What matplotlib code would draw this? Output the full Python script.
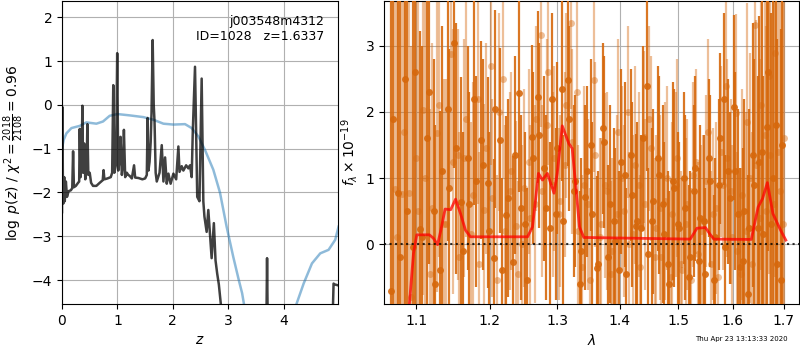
import matplotlib
matplotlib.use('Agg')
import matplotlib.pyplot as plt
from matplotlib.ticker import NullLocator, FixedFormatter

# p(z) curve (black): redshift, log p(z)
PZ_Z = [0.000, 0.008, 0.015, 0.025, 0.040, 0.050, 0.070, 0.090, 0.120, 0.160,
        0.185, 0.200, 0.215, 0.250, 0.290, 0.310, 0.320, 0.335, 0.355, 0.368,
        0.380, 0.400, 0.420, 0.445, 0.458, 0.475, 0.500, 0.525, 0.560, 0.620,
        0.680, 0.735, 0.750, 0.765, 0.820, 0.880, 0.905, 0.925, 0.945, 0.975,
        0.996, 1.015, 1.035, 1.056, 1.080, 1.100, 1.117, 1.140, 1.170, 1.195,
        1.220, 1.260, 1.300, 1.320, 1.380, 1.450, 1.500, 1.530, 1.545, 1.560,
        1.580, 1.600, 1.615, 1.636, 1.655, 1.670, 1.690, 1.710, 1.760, 1.800,
        1.830, 1.860, 1.890, 1.920, 1.960, 2.010, 2.060, 2.100, 2.120, 2.160,
        2.190, 2.240, 2.280, 2.310, 2.340, 2.360, 2.400, 2.440, 2.480, 2.520,
        2.550, 2.570, 2.610, 2.640, 2.670, 2.700, 2.740, 2.770, 2.800, 2.830,
        2.870, 2.950, 3.400, 3.680, 3.700, 3.720, 4.200, 4.860, 4.900, 4.920,
        4.980]
PZ_LOGP = [-2.45, -0.05, -1.60, -2.25, -1.65, -2.20, -1.75, -2.10, -1.97, -1.95,
           -1.90, -1.06, -1.88, -1.85, -1.78, -1.75, -0.55, -1.65, -1.20, -0.02,
           -1.55, -0.88, -1.70, -1.40, -0.44, -1.60, -1.55, -1.78, -1.85, -1.85,
           -1.78, -1.72, -1.49, -1.70, -1.68, -1.65, -1.55, 0.45, -1.55, -1.35,
           1.18, -1.50, -1.30, -0.73, -1.60, -1.40, -0.57, -1.65, -1.55, -1.60,
           -1.62, -1.68, -1.38, -1.66, -1.67, -1.70, -1.68, -1.60, -0.30, -1.50,
           -1.30, -0.85, -0.20, 1.48, 0.00, -0.40, -1.55, -1.75, -1.55, -0.92,
           -1.75, -1.20, -1.80, -1.57, -1.80, -1.57, -1.70, -0.95, -1.53, -1.40,
           -1.50, -1.38, -1.45, -1.38, -1.65, -0.60, 0.87, -2.10, -2.20, 0.60,
           -2.20, -2.55, -2.90, -2.40, -2.95, -3.50, -2.70, -3.55, -3.85, -4.10,
           -4.60, -6.00, -6.00, -6.00, -3.50, -6.00, -6.00, -6.00, -4.08, -4.10,
           -4.12]

# prior / smooth curve (blue)
PRIOR_Z = [0.00, 0.03, 0.08, 0.17, 0.32, 0.44, 0.62, 0.74, 0.86, 1.00, 1.22,
           1.47, 1.65, 1.83, 2.01, 2.22, 2.34, 2.46, 2.58, 2.73, 2.85, 2.97,
           3.09, 3.19, 3.25, 3.29, 3.60, 4.00, 4.23, 4.36, 4.51, 4.66, 4.81,
           4.93, 4.99]
PRIOR_LOGP = [-1.00, -0.80, -0.65, -0.53, -0.48, -0.40, -0.43, -0.38, -0.25,
              -0.21, -0.24, -0.28, -0.34, -0.43, -0.45, -0.44, -0.53, -0.72,
              -1.03, -1.48, -2.00, -2.78, -3.47, -4.00, -4.30, -4.60, -6.00,
              -6.00, -4.55, -4.08, -3.62, -3.39, -3.31, -3.08, -2.78]

# spectrum A (dark orange)
WAVE_A = [1.068, 1.077, 1.086, 1.096, 1.105, 1.114, 1.123, 1.132, 1.142, 1.151,
          1.160, 1.169, 1.178, 1.188, 1.197, 1.206, 1.215, 1.224, 1.234, 1.243,
          1.252, 1.261, 1.270, 1.280, 1.289, 1.298, 1.307, 1.316, 1.326, 1.335,
          1.344, 1.353, 1.362, 1.372, 1.381, 1.390, 1.399, 1.408, 1.418, 1.427,
          1.436, 1.445, 1.454, 1.464, 1.473, 1.482, 1.491, 1.500, 1.510, 1.519,
          1.528, 1.537, 1.546, 1.556, 1.565, 1.574, 1.583, 1.592, 1.602, 1.611,
          1.620, 1.629, 1.638, 1.648, 1.657, 1.666, 1.675, 1.684, 1.694]
FLUX_A = [-0.71, 0.77, 2.50, -0.05, 0.23, 1.61, 0.50, -0.39, 2.04, 3.05,
          0.63, 1.30, 2.19, 1.57, 0.93, -0.21, 1.57, 0.44, -0.27, 2.29,
          0.30, 1.62, 2.23, 1.15, 0.25, 0.45, 2.35, 2.48, 0.80, -0.60,
          0.71, 1.50, -0.37, 1.75, -0.20, 0.35, -0.40, 1.05, 1.35, 0.27,
          0.25, 2.40, 0.35, 1.30, 0.60, -0.30, 0.95, 0.30, 1.00, -0.50,
          0.80, -0.25, 0.35, 1.30, -0.55, 0.90, 2.20, 1.10, 2.07, 0.45,
          -0.25, -0.75, 1.35, 0.25, 1.40, 1.78, 0.30, 1.80, -0.55]
ERR_A = [4.5, 4.5, 4.0, 3.8, 3.0, 2.6, 2.3, 2.4, 2.0, 1.9,
         1.9, 1.7, 1.6, 1.5, 1.6, 1.5, 1.4, 1.5, 1.6, 1.5,
         1.4, 1.4, 1.3, 1.4, 1.3, 1.3, 1.4, 1.3, 1.3, 1.4,
         1.4, 1.3, 1.4, 1.3, 1.4, 1.4, 1.5, 1.4, 1.3, 1.4,
         1.4, 1.3, 1.4, 1.4, 1.5, 1.4, 1.5, 1.4, 1.3, 1.4,
         1.3, 1.4, 1.3, 1.2, 1.3, 1.3, 1.3, 1.4, 1.4, 1.6,
         1.7, 1.8, 2.0, 2.3, 2.5, 2.8, 3.2, 3.5, 3.8]

# spectrum C (dark orange, second beam)
WAVE_C = [1.0703, 1.0793, 1.0883, 1.0983, 1.1073, 1.1163, 1.1253, 1.1343,
          1.1443, 1.1533, 1.1623, 1.1713, 1.1803, 1.1903, 1.1993, 1.2083,
          1.2173, 1.2263, 1.2363, 1.2453, 1.2543, 1.2633, 1.2723, 1.2823,
          1.2913, 1.3003, 1.3093, 1.3183, 1.3283, 1.3373, 1.3463, 1.3553,
          1.3643, 1.3743, 1.3833, 1.3923, 1.4013, 1.4103, 1.4203, 1.4293,
          1.4383, 1.4473, 1.4563, 1.4663, 1.4753, 1.4843, 1.4933, 1.5023,
          1.5123, 1.5213, 1.5303, 1.5393, 1.5483, 1.5583, 1.5673, 1.5763,
          1.5853, 1.5943, 1.6043, 1.6133, 1.6223, 1.6313, 1.6403, 1.6503,
          1.6593, 1.6683, 1.6773, 1.6863, 1.6963]
FLUX_C = [1.90, -0.20, 0.50, 2.60, 0.10, 2.30, -0.60, 1.10, 0.85, 1.45,
          -0.10, 0.60, 0.95, 1.20, 0.20, 2.05, -0.40, 0.70, 1.35, 0.55,
          -0.55, 1.30, 1.65, 0.55, 2.20, 1.45, 0.35, 1.90, 0.95, -0.10,
          1.10, 0.45, -0.30, 1.55, 0.60, 0.05, 1.25, -0.45, 0.75, 0.35,
          1.60, -0.15, 0.65, 1.05, 0.15, -0.60, 0.85, 0.25, 0.55, -0.20,
          1.15, 0.40, -0.45, 0.95, 0.10, 1.60, -0.05, 0.70, 1.10, -0.35,
          0.50, 0.25, 0.90, 1.25, 0.15, 2.60, 1.00, -0.30, 1.50]
ERR_C = [4.4, 4.3, 3.9, 3.6, 2.9, 2.6, 2.4, 2.2, 2.1, 1.9,
         1.8, 1.7, 1.6, 1.6, 1.5, 1.5, 1.4, 1.5, 1.5, 1.4,
         1.4, 1.3, 1.4, 1.4, 1.3, 1.3, 1.3, 1.4, 1.3, 1.4,
         1.3, 1.4, 1.4, 1.3, 1.5, 1.4, 1.4, 1.3, 1.4, 1.5,
         1.4, 1.3, 1.4, 1.5, 1.4, 1.4, 1.5, 1.3, 1.4, 1.3,
         1.4, 1.4, 1.3, 1.3, 1.2, 1.3, 1.4, 1.3, 1.5, 1.5,
         1.7, 1.8, 1.9, 2.2, 2.4, 2.7, 3.0, 3.4, 3.7]

# spectrum B (light orange)
WAVE_B = [1.0726, 1.0818, 1.0910, 1.1002, 1.1094, 1.1186, 1.1278, 1.1370,
          1.1462, 1.1554, 1.1646, 1.1738, 1.1830, 1.1922, 1.2014, 1.2106,
          1.2198, 1.2290, 1.2382, 1.2474, 1.2566, 1.2658, 1.2750, 1.2842,
          1.2934, 1.3026, 1.3118, 1.3210, 1.3302, 1.3394, 1.3486, 1.3578,
          1.3670, 1.3762, 1.3854, 1.3946, 1.4038, 1.4130, 1.4222, 1.4314,
          1.4406, 1.4498, 1.4590, 1.4682, 1.4774, 1.4866, 1.4958, 1.5050,
          1.5142, 1.5234, 1.5326, 1.5418, 1.5510, 1.5602, 1.5694, 1.5786,
          1.5878, 1.5970, 1.6062, 1.6154, 1.6246, 1.6338, 1.6430, 1.6522,
          1.6614, 1.6706, 1.6798, 1.6890, 1.6982]
FLUX_B = [0.84, 0.76, 0.77, 1.30, 2.03, -0.45, 1.68, 0.30, 2.88, 1.35,
          1.30, 0.15, 2.20, 0.52, 2.69, -0.55, 2.50, 0.80, 0.27, 0.00,
          1.25, 0.60, 3.17, 1.80, 0.90, 0.45, 1.20, 3.35, 2.30, -0.35,
          0.60, 2.49, 0.10, 0.89, -0.45, 0.45, 1.00, 2.00, 0.15, 0.90,
          1.62, 1.90, -0.20, 0.55, 0.65, -0.50, 0.90, -0.30, 0.30, -0.55,
          1.25, 0.20, 0.95, -0.30, 0.55, 1.40, 2.40, 0.80, 1.99, -0.45,
          0.20, 1.00, 3.31, 0.40, 1.65, 2.55, 0.60, 1.40, 0.30]
ERR_B = [4.5, 4.2, 4.0, 3.4, 2.8, 2.5, 2.4, 2.2, 2.0, 1.9,
         1.8, 1.7, 1.6, 1.6, 1.5, 1.6, 1.5, 1.5, 1.6, 1.5,
         1.4, 1.5, 1.4, 1.3, 1.4, 1.3, 1.4, 1.3, 1.4, 1.4,
         1.3, 1.4, 1.5, 1.4, 1.4, 1.5, 1.4, 1.3, 1.5, 1.4,
         1.3, 1.4, 1.5, 1.4, 1.5, 1.5, 1.4, 1.4, 1.3, 1.4,
         1.4, 1.3, 1.3, 1.4, 1.3, 1.3, 1.4, 1.4, 1.5, 1.6,
         1.8, 1.9, 2.1, 2.4, 2.6, 3.0, 3.3, 3.6, 4.0]

# spectrum D (light orange, second beam)
WAVE_D = [1.0749, 1.0841, 1.0933, 1.1025, 1.1117, 1.1209, 1.1301, 1.1393,
          1.1485, 1.1577, 1.1669, 1.1761, 1.1853, 1.1945, 1.2037, 1.2129,
          1.2221, 1.2313, 1.2405, 1.2497, 1.2589, 1.2681, 1.2773, 1.2865,
          1.2957, 1.3049, 1.3141, 1.3233, 1.3325, 1.3417, 1.3509, 1.3601,
          1.3693, 1.3785, 1.3877, 1.3969, 1.4061, 1.4153, 1.4245, 1.4337,
          1.4429, 1.4521, 1.4613, 1.4705, 1.4797, 1.4889, 1.4981, 1.5073,
          1.5165, 1.5257, 1.5349, 1.5441, 1.5533, 1.5625, 1.5717, 1.5809,
          1.5901, 1.5993, 1.6085, 1.6177, 1.6269, 1.6361, 1.6453, 1.6545,
          1.6637, 1.6729, 1.6821, 1.6913, 1.7005]
FLUX_D = [0.10, 1.70, -0.80, 0.50, 1.00, 0.55, 2.10, 0.30, 1.25, -0.20,
          1.90, 0.75, -0.30, 1.45, 0.70, 2.00, 0.20, 1.10, -0.45, 0.85,
          0.40, 1.90, 0.80, 2.60, 1.30, 0.65, 2.10, 1.55, 0.20, 0.90,
          -0.55, 1.35, 0.30, 0.80, -0.10, 1.70, 0.50, 0.00, 1.20, -0.35,
          0.60, 1.45, 0.25, -0.20, 1.00, 0.45, 1.30, -0.40, 0.60, 1.05,
          -0.15, 0.35, 1.70, 0.45, -0.50, 0.90, 1.30, 0.10, -0.10, 0.75,
          1.85, -0.30, 1.20, 2.10, 0.50, 1.35, 2.90, 0.80, 1.60]
ERR_D = [4.6, 4.2, 3.8, 3.3, 2.9, 2.5, 2.3, 2.2, 2.0, 1.9,
         1.8, 1.7, 1.7, 1.6, 1.5, 1.5, 1.6, 1.5, 1.4, 1.5,
         1.4, 1.4, 1.3, 1.4, 1.4, 1.3, 1.4, 1.4, 1.3, 1.5,
         1.4, 1.4, 1.3, 1.5, 1.4, 1.4, 1.3, 1.4, 1.5, 1.4,
         1.3, 1.4, 1.4, 1.5, 1.4, 1.4, 1.5, 1.4, 1.3, 1.4,
         1.4, 1.3, 1.4, 1.3, 1.4, 1.3, 1.5, 1.4, 1.5, 1.6,
         1.8, 2.0, 2.2, 2.5, 2.8, 3.1, 3.4, 3.8, 4.1]

# best-fit model (red)
MODEL_WAVE = [1.0850, 1.0913, 1.0966, 1.1009, 1.1174, 1.1226, 1.1283, 1.1327,
              1.1384, 1.1459, 1.1526, 1.1594, 1.1662, 1.1730, 1.2551, 1.2625,
              1.2714, 1.2774, 1.2849, 1.2950, 1.3000, 1.3077, 1.3180, 1.3232,
              1.3294, 1.3346, 1.3415, 1.5216, 1.5338, 1.5492, 1.5566, 1.5648,
              1.6356, 1.6488, 1.6576, 1.6670, 1.6780, 1.6933, 1.7038]
MODEL_FLUX = [-2.00, -0.91, -0.14, 0.14, 0.14, 0.09, -0.01, 0.21,
              0.53, 0.52, 0.68, 0.46, 0.21, 0.11, 0.11, 0.26,
              1.07, 0.97, 1.07, 0.77, 1.07, 1.79, 1.52, 1.45,
              0.82, 0.26, 0.10, 0.075, 0.24, 0.25, 0.16, 0.075,
              0.07, 0.56, 0.69, 0.93, 0.46, 0.21, 0.06]

WAVE_TICKS = [1.1, 1.2, 1.3, 1.4, 1.5, 1.6, 1.7]
ORANGE = '#d6680c'


def plot_pz(ax):
    ax.plot(PRIOR_Z, PRIOR_LOGP, color='tab:blue', alpha=0.5, lw=1.8)
    ax.plot(PZ_Z, PZ_LOGP, color='k', alpha=0.75, lw=1.8)
    ax.set_xlim(0, 4.98)
    ax.set_ylim(-4.55, 2.37)
    ax.set_xticks([0, 1, 2, 3, 4])
    ax.set_xlabel('$z$')
    ax.set_ylabel(r'$\log\ p(z)$ / $\chi^2=\frac{2018}{2108}=0.96$')
    ax.text(0.95, 0.955, 'j003548m4312\nID=1028   z=1.6337', transform=ax.transAxes,
            ha='right', va='top', fontsize=9)
    ax.grid(True)


def plot_spec(ax):
    # light (faded) beams underneath, dark beams on top
    for w, f, e in [(WAVE_B, FLUX_B, ERR_B), (WAVE_D, FLUX_D, ERR_D)]:
        ax.errorbar(w, f, yerr=e, fmt='o', color=ORANGE, alpha=0.42,
                    ms=5, mew=0, elinewidth=1.6, capsize=0, zorder=2)
    for w, f, e in [(WAVE_A, FLUX_A, ERR_A), (WAVE_C, FLUX_C, ERR_C)]:
        ax.errorbar(w, f, yerr=e, fmt='o', color=ORANGE, alpha=0.9,
                    ms=5, mew=0, elinewidth=1.6, capsize=0, zorder=3)
    ax.plot(MODEL_WAVE, MODEL_FLUX, color='red', alpha=0.75, lw=2, zorder=5)
    ax.axhline(0, color='k', linestyle=':', lw=1.5, alpha=0.8, zorder=6)
    ax.set_xscale('log')
    ax.set_xlim(1.059, 1.731)
    ax.set_ylim(-0.91, 3.68)
    ax.set_xticks(WAVE_TICKS)
    ax.xaxis.set_major_formatter(FixedFormatter([f'{w:.1f}' for w in WAVE_TICKS]))
    ax.xaxis.set_minor_locator(NullLocator())
    ax.set_yticks([0, 1, 2, 3])
    ax.set_xlabel(r'$\lambda$')
    ax.set_ylabel(r'$f_\lambda\times10^{-19}$')
    ax.grid(True)


def main():
    fig = plt.figure(figsize=(8, 3.5), dpi=100)
    ax1 = fig.add_axes([0.0775, 0.131, 0.345, 0.866])
    ax2 = fig.add_axes([0.480, 0.131, 0.519, 0.866])
    plot_pz(ax1)
    plot_spec(ax2)
    fig.text(0.985, 0.031, 'Thu Apr 23 13:13:33 2020', ha='right', va='center', fontsize=5)
    fig.savefig('out.png', dpi=100)


if __name__ == '__main__':
    main()
